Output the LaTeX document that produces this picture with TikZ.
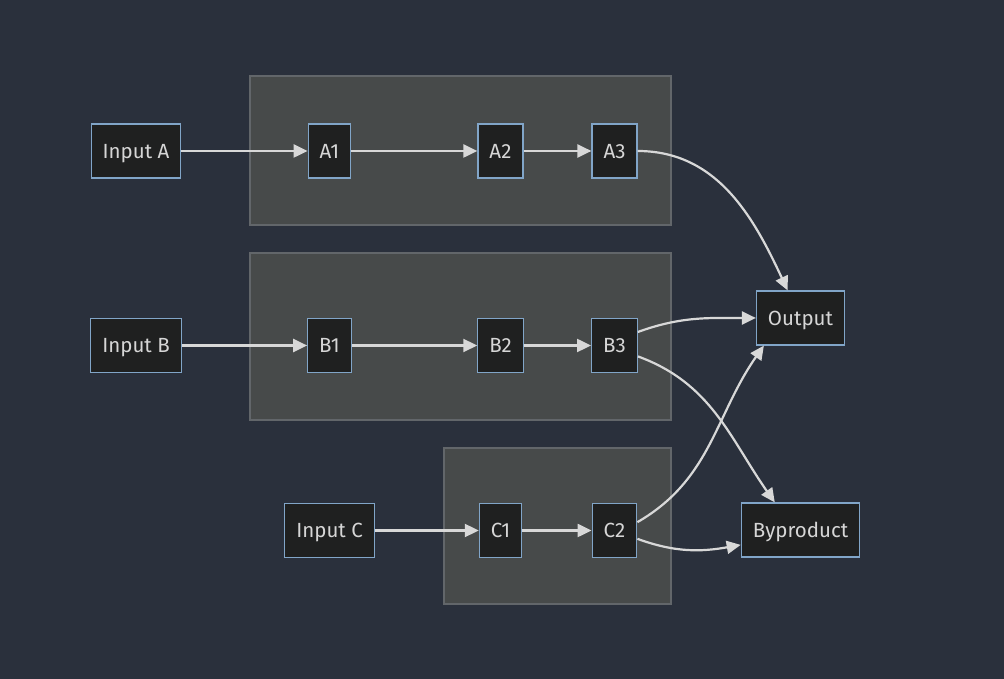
\documentclass[tikz,border=0pt]{standalone}
\usepackage{fontspec}
\setmainfont{Fira Sans}
\usetikzlibrary{arrows.meta}
\definecolor{bgcol}{HTML}{2A303C}
\definecolor{groupfill}{HTML}{474A4A}
\definecolor{groupline}{HTML}{62666A}
\definecolor{nodefill}{HTML}{1F2020}
\definecolor{nodeline}{HTML}{81A5C8}
\definecolor{edgecol}{HTML}{D8D8D8}
\definecolor{textcol}{HTML}{D6D6D6}

\begin{document}
\begin{tikzpicture}[x=1pt, y=1pt, >={Triangle[length=14pt, width=13pt]},
	every node/.style={font=\fontsize{20.5}{24}\selectfont, text=textcol},
	box/.style={draw=nodeline, fill=nodefill, line width=1.2pt, minimum height=54pt, inner xsep=11.5pt, inner ysep=0pt, text height=14.3pt, text depth=0pt},
	group/.style={draw=groupline, fill=groupfill, line width=1.2pt},
	edge/.style={->, draw=edgecol, line width=2.2pt}]
	\fill[bgcol] (0,0) rectangle (1004,679);
	\useasboundingbox (0,0) rectangle (1004,679);
	% groups
	\draw[group] (250,454) rectangle (671,603);
	\draw[group] (250,259) rectangle (671,426);
	\draw[group] (444,75) rectangle (671,231);
	% nodes
	\node[box] (inA) at (136,528) {Input A};
	\node[box] (a1) at (329.5,528) {A1};
	\node[box] (a2) at (500.5,528) {A2};
	\node[box] (a3) at (614.5,528) {A3};
	\node[box] (inB) at (136,333.5) {Input B};
	\node[box] (b1) at (329.5,333.5) {B1};
	\node[box] (b2) at (500.5,333.5) {B2};
	\node[box] (b3) at (614.5,333.5) {B3};
	\node[box] (inC) at (329.5,148.5) {Input C};
	\node[box] (c1) at (500.5,148.5) {C1};
	\node[box] (c2) at (614.5,148.5) {C2};
	\node[box] (out) at (800.5,361) {Output};
	\node[box] (byp) at (800.5,149) {Byproduct};
	% edges
	\draw[edge] (inA) -- (a1);
	\draw[edge] (a1) -- (a2);
	\draw[edge] (a2) -- (a3);
	\draw[edge] (inB) -- (b1);
	\draw[edge] (b1) -- (b2);
	\draw[edge] (b2) -- (b3);
	\draw[edge] (inC) -- (c1);
	\draw[edge] (c1) -- (c2);
	\draw[edge] (a3.east) to[out=0, in=115] (out.115);
	\draw[edge] (b3.30) to[out=20, in=180] (out.west);
	\draw[edge] (b3.-25) to[out=-20, in=125] (byp.133);
	\draw[edge] (c2.20) to[out=30, in=-125] (out.217);
	\draw[edge] (c2.-20) to[out=-20, in=190] (byp.194);
\end{tikzpicture}
\end{document}
